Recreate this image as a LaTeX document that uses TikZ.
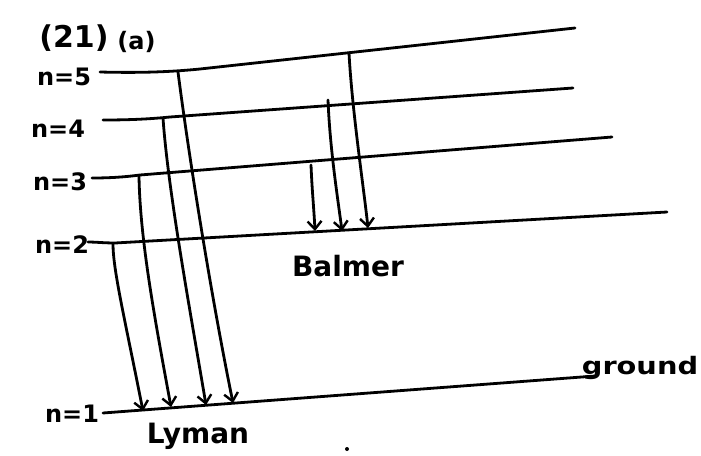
\documentclass[tikz,border=0pt]{standalone}
\usepackage{fontspec}
\setmainfont{DejaVu Sans}
\usetikzlibrary{arrows.meta}
\begin{document}
\begin{tikzpicture}[x=1pt,y=-1pt,line width=2.8pt,line cap=round,line join=round,
  >={Straight Barb[length=8pt,width=14pt,line width=2.4pt]},
  lbl/.style={inner sep=0pt,font=\fontsize{24}{28}\selectfont\bfseries},
  big/.style={inner sep=0pt,font=\fontsize{30}{34}\selectfont\bfseries},
  word/.style={inner sep=0pt,font=\fontsize{28}{32}\selectfont\bfseries},
  lvl/.style={line width=2.8pt},
  trans/.style={->,line width=2.8pt}]
\fill[white] (0,0) rectangle (701,455);
\useasboundingbox (0,0) rectangle (701,455);
% labels
\node[big,anchor=west] (title) at (38,38) {(21)};
\node[lbl,anchor=west] (sub) at (116,42) {(a)};
\node[lbl] (l5) at (64,77) {n=5};
\node[lbl] (l4) at (58,129) {n=4};
\node[lbl] (l3) at (60,182) {n=3};
\node[lbl] (l2) at (62,245) {n=2};
\node[lbl] (l1) at (72,414) {n=1};
\node[word] (balmer) at (348,266) {Balmer};
\node[word] (lyman) at (198,436) {Lyman};
\node[word,font=\fontsize{24}{28}\selectfont\bfseries,xscale=1.2] (ground) at (640,368) {ground};
\fill (347,449) circle (2pt);
% level coordinates
\coordinate (a5) at (100,72); \coordinate (b5) at (575,28);
\coordinate (a4) at (103,120); \coordinate (b4) at (573,88);
\coordinate (a3) at (92,178); \coordinate (b3) at (612,137);
\coordinate (a2) at (88,242); \coordinate (b2) at (667,212);
\coordinate (a1) at (103,413); \coordinate (b1) at (595,376);
\draw[lvl] (a5) .. controls (140,73) and (170,72) .. (200,69) -- (b5);
\draw[lvl] (a4) .. controls (130,120) and (150,119) .. (170,117) -- (b4);
\draw[lvl] (a3) .. controls (110,178) and (125,177) .. (140,175) -- (b3);
\draw[lvl] (a2) .. controls (95,242) and (105,243) .. (115,243) -- (b2);
\draw[lvl] (a1) -- (b1);
% transition coordinates
\coordinate (s21) at (113,244); \coordinate (e21) at (143,411);
\coordinate (s31) at (139,176); \coordinate (e31) at (171,407);
\coordinate (s41) at (163,118); \coordinate (e41) at (206,405);
\coordinate (s51) at (178,72);  \coordinate (e51) at (233,403);
\coordinate (s32) at (311,165); \coordinate (e32) at (315,231);
\coordinate (s42) at (328,100); \coordinate (e42) at (342,231);
\coordinate (s52) at (349,53);  \coordinate (e52) at (368,228);
% Lyman
\draw[trans] (s21) .. controls (113,270) and (125,320) .. (e21);
\draw[trans] (s31) .. controls (140,240) and (155,320) .. (e31);
\draw[trans] (s41) .. controls (168,190) and (190,310) .. (e41);
\draw[trans] (s51) .. controls (188,150) and (210,290) .. (e51);
% Balmer
\draw[trans] (s32) .. controls (312,190) and (314,210) .. (e32);
\draw[trans] (s42) .. controls (330,150) and (338,200) .. (e42);
\draw[trans] (s52) .. controls (352,110) and (364,190) .. (e52);
\end{tikzpicture}
\end{document}
